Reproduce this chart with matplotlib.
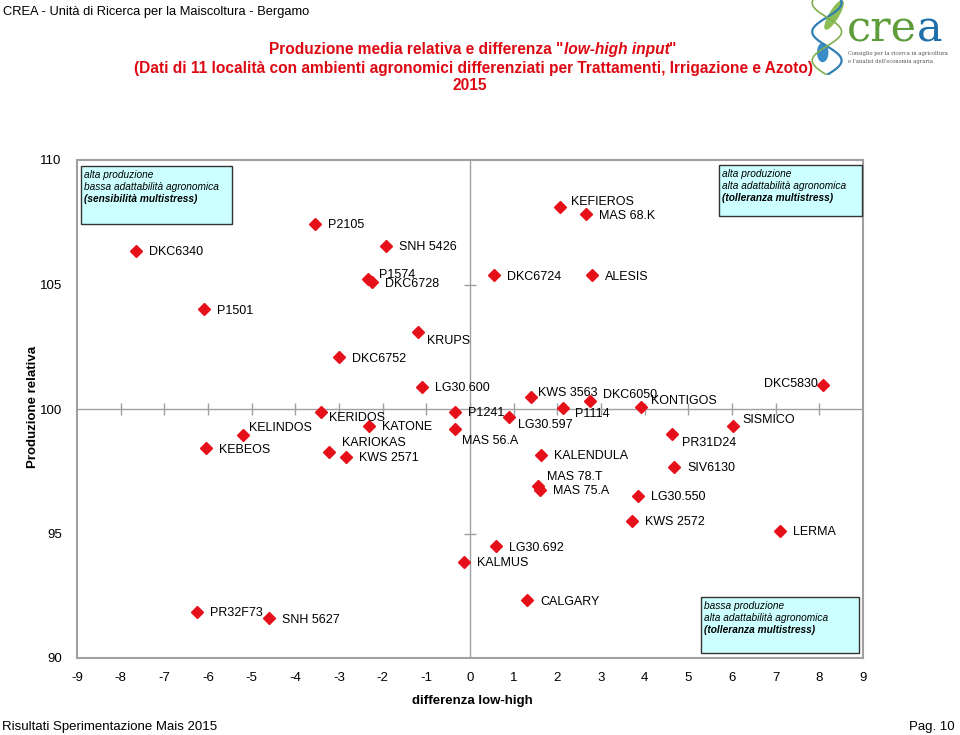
import matplotlib
matplotlib.use('Agg')
import matplotlib.pyplot as plt
from matplotlib.patches import Rectangle, Ellipse, Circle
import numpy as np

plt.rcParams['font.family'] = ['Liberation Sans', 'DejaVu Sans']
plt.rcParams['axes.unicode_minus'] = False

# dati: ibrido, differenza low-high, produzione relativa
hybrids = ['DKC6340', 'P2105', 'SNH 5426', 'P1574', 'DKC6728', 'P1501', 'KRUPS',
           'DKC6752', 'LG30.600', 'KERIDOS', 'KELINDOS', 'KEBEOS', 'KATONE',
           'KARIOKAS', 'KWS 2571', 'P1241', 'MAS 56.A', 'KWS 3563', 'P1114',
           'DKC6050', 'KONTIGOS', 'DKC5830', 'SISMICO', 'PR31D24', 'LG30.597',
           'KALENDULA', 'SIV6130', 'MAS 78.T', 'MAS 75.A', 'LG30.550', 'KWS 2572',
           'LERMA', 'LG30.692', 'KALMUS', 'CALGARY', 'PR32F73', 'SNH 5627',
           'KEFIEROS', 'MAS 68.K', 'DKC6724', 'ALESIS']
diff = [-7.64, -3.54, -1.93, -2.33, -2.24, -6.10, -1.18,
        -3.00, -1.11, -3.41, -5.19, -6.05, -2.31,
        -3.23, -2.85, -0.34, -0.34, 1.40, 2.14,
        2.74, 3.92, 8.09, 6.02, 4.62, 0.89,
        1.62, 4.68, 1.56, 1.61, 3.84, 3.71,
        7.10, 0.59, -0.13, 1.31, -6.25, -4.61,
        2.07, 2.65, 0.54, 2.80]
prod = [106.35, 107.43, 106.56, 105.22, 105.10, 104.00, 103.08,
        102.08, 100.90, 99.88, 98.94, 98.42, 99.32,
        98.27, 98.08, 99.88, 99.18, 100.47, 100.05,
        100.31, 100.08, 100.95, 99.30, 98.98, 99.68,
        98.16, 97.68, 96.92, 96.75, 96.52, 95.52,
        95.11, 94.49, 93.87, 92.32, 91.85, 91.59,
        108.10, 107.82, 105.38, 105.38]

x_ticks = np.arange(-9, 10)
y_ticks = [90, 95, 100, 105, 110]

# posizione etichette (pixel rispetto al punto), default a destra
label_pos = {
    'P1574': (11, 6, 'left'), 'KRUPS': (9, -7, 'left'), 'KERIDOS': (8, -5, 'left'),
    'KELINDOS': (6, 9, 'left'), 'KARIOKAS': (13, 11, 'left'), 'MAS 56.A': (7, -10, 'left'),
    'KWS 3563': (7, 6, 'left'), 'P1114': (12, -5, 'left'), 'DKC6050': (13, 8, 'left'),
    'KONTIGOS': (10, 8, 'left'), 'DKC5830': (-5, 3, 'right'), 'SISMICO': (10, 8, 'left'),
    'PR31D24': (10, -7, 'left'), 'LG30.597': (9, -7, 'left'), 'MAS 78.T': (9, 10, 'left'),
    'KEFIEROS': (11, 7, 'left'),
}

W, H = 960, 735
fig = plt.figure(figsize=(9.6, 7.35), dpi=100)

def fx(px):
    return px / W

def fy(py):
    return 1 - py / H

ax = fig.add_axes([fx(77), fy(658), fx(863) - fx(77), fy(160) - fy(658)])
ax.set_xlim(-9, 9)
ax.set_ylim(90, 110)
for s in ax.spines.values():
    s.set_color('#A0A0A0')
    s.set_linewidth(1.5)
ax.set_xticks(x_ticks)
ax.set_yticks(y_ticks)
ax.tick_params(length=0, labelsize=9.5)
ax.tick_params(axis='x', pad=10)
ax.tick_params(axis='y', pad=11)

# assi centrali con tacche
ax.axhline(100, color='#A0A0A0', lw=1, zorder=1)
ax.axvline(0, color='#A0A0A0', lw=1, zorder=1)
ax.plot(x_ticks[1:-1], np.full(len(x_ticks) - 2, 100), ls='none', marker='|',
        ms=8, color='#A0A0A0', mew=1, zorder=1)
ax.plot([0, 0], [95, 105], ls='none', marker='_', ms=8, color='#A0A0A0', mew=1, zorder=1)

ax.plot(diff, prod, ls='none', marker='D', ms=6.5, color='#E5101A', mec='#E5101A', zorder=3)
for name, xv, yv in zip(hybrids, diff, prod):
    dx, dy, ha = label_pos.get(name, (13, 0, 'left'))
    ax.annotate(name, (xv, yv), xytext=(dx, dy), textcoords='offset pixels',
                ha=ha, va='center_baseline', fontsize=9, zorder=4)

# riquadri descrittivi
boxes = [
    ((81, 166, 232, 224), ['alta produzione', 'bassa adattabilità agronomica', '(sensibilità multistress)']),
    ((719, 165, 862, 216), ['alta produzione', 'alta adattabilità agronomica', '(tolleranza multistress)']),
    ((701, 597, 859, 653), ['bassa produzione', 'alta adattabilità agronomica', '(tolleranza multistress)']),
]
for (x0, y0, x1, y1), lines in boxes:
    fig.patches.append(Rectangle((fx(x0), fy(y1)), fx(x1) - fx(x0), fy(y0) - fy(y1),
                                 transform=fig.transFigure, facecolor='#CCFFFF',
                                 edgecolor='#333333', lw=1, zorder=5))
    for i, t in enumerate(lines):
        fig.text(fx(x0 + 3), fy(y0 + 9 + 12 * i), t, fontsize=7.3, style='italic',
                 weight='bold' if i == 2 else 'normal', va='center', zorder=6)

fig.text(fx(33), fy(407), 'Produzione relativa', rotation=90, ha='center', va='center',
         fontsize=9.5, weight='bold')
fig.text(fx(472), fy(701), 'differenza low-high', ha='center', va='center',
         fontsize=9.5, weight='bold')

# intestazione e titolo
fig.text(fx(3), fy(12), 'CREA - Unità di Ricerca per la Maiscoltura - Bergamo',
         fontsize=9.3, va='center')
red = '#DD0A14'
tsize = 11.2
renderer = fig.canvas.get_renderer()
parts = [('Produzione media relativa e differenza "', 'normal'),
         ('low-high input', 'italic'), ('"', 'normal')]
objs = [fig.text(0, fy(48), t, fontsize=tsize, weight='bold', style=st, color=red,
                 va='center_baseline') for t, st in parts]
widths = [o.get_window_extent(renderer).width for o in objs]
xpos = 473 - sum(widths) / 2
for o, w in zip(objs, widths):
    o.set_x(fx(xpos))
    xpos += w
fig.text(fx(474), fy(67), '(Dati di 11 località con ambienti agronomici differenziati per Trattamenti, Irrigazione e Azoto)',
         ha='center', va='center_baseline', fontsize=tsize, weight='bold', color=red)
fig.text(fx(470), fy(83.5), '2015', ha='center', va='center_baseline', fontsize=tsize,
         weight='bold', color=red)

# piè di pagina
fig.text(fx(2), fy(727), 'Risultati Sperimentazione Mais 2015', fontsize=9.5, va='center')
fig.text(fx(955), fy(727), 'Pag. 10', fontsize=9.5, va='center', ha='right')

# logo
fig.text(fx(847), fy(42), 'cre', fontsize=31, family='DejaVu Serif', color='#5E9C3C', va='baseline')
fig.text(fx(917), fy(42), 'a', fontsize=31, family='DejaVu Serif', color='#1F6FAA', va='baseline')
fig.text(fx(848), fy(53), 'Consiglio per la ricerca in agricoltura', fontsize=3.7,
         family='DejaVu Serif', color='#555555', va='center')
fig.text(fx(848), fy(62), "e l'analisi dell'economia agraria", fontsize=3.7,
         family='DejaVu Serif', color='#555555', va='center')
lax = fig.add_axes([fx(808), fy(75), fx(42), fy(0) - fy(75)])
lax.set_xlim(0, 1)
lax.set_ylim(0, 1)
lax.axis('off')
tt = np.linspace(0, 1, 60)
lax.plot(0.45 + 0.35 * np.sin(tt * 2.6 * np.pi), tt, color='#2F7FB5', lw=1.6)
lax.plot(0.45 - 0.35 * np.sin(tt * 2.6 * np.pi), tt, color='#7FAF4F', lw=1.2)
lax.add_patch(Ellipse((0.62, 0.8), 0.55, 0.16, angle=40, color='#8DBE55'))
lax.add_patch(Circle((0.35, 0.3), 0.12, color='#3A8CC8'))

fig.savefig('out.png', dpi=100)
